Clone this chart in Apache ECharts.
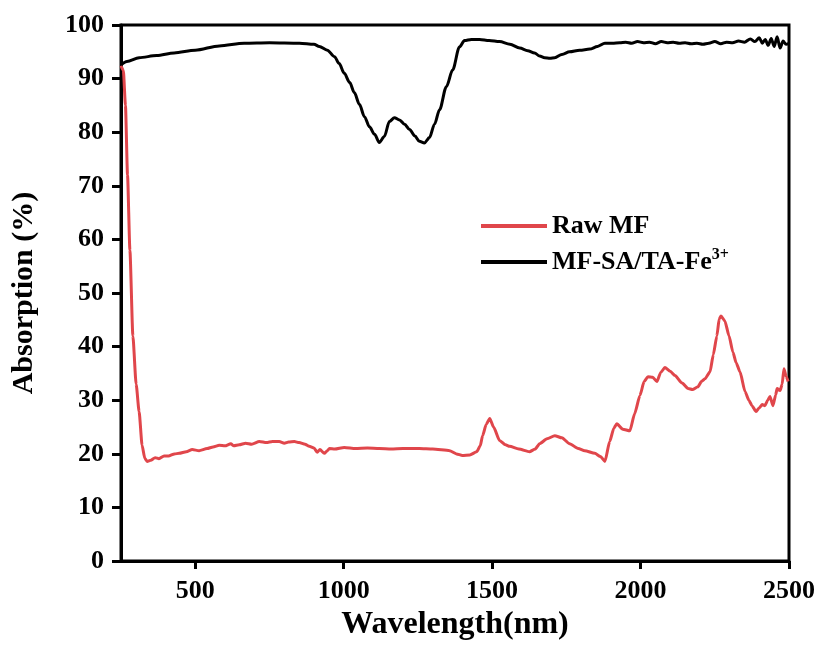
<!DOCTYPE html>
<html>
<head>
<meta charset="utf-8">
<script src="https://cdn.jsdelivr.net/npm/echarts@6/dist/echarts.min.js"></script>
<style>html,body{margin:0;padding:0;background:#fff;}#c{width:821px;height:646px;}</style>
</head>
<body>
<div id="c"></div>
<script>
var xTicks = [500, 1000, 1500, 2000, 2500];
var yTicks = [0, 10, 20, 30, 40, 50, 60, 70, 80, 90, 100];

var rawWl = [250,258,265,272,280,290,301,311,321,330,338,350,365,378,395,410,430,446,470,490,513,540,560,581,600,620,630,648,670,690,716,740,760,783,800,815,834,850,870,884,900,911,920,935,945,952,970,1002,1040,1080,1120,1160,1200,1255,1300,1357,1380,1400,1425,1448,1460,1468,1480,1492,1505,1525,1545,1559,1590,1626,1645,1660,1685,1711,1735,1761,1790,1812,1846,1865,1880,1896,1910,1920,1940,1964,1980,1998,2012,2025,2041,2055,2068,2082,2100,2116,2140,2160,2175,2193,2205,2217,2234,2245,2257,2265,2271,2284,2298,2311,2322,2335,2352,2365,2375,2389,2400,2410,2419,2428,2436,2446,2455,2460,2470,2477,2483,2490,2497];
var rawVal = [92.4,91.5,85,72,58,42,33,27.9,21.6,19.2,18.6,18.8,19.3,19.1,19.6,19.6,20.0,20.1,20.4,20.8,20.6,21.0,21.3,21.6,21.5,21.9,21.5,21.7,22.0,21.8,22.3,22.1,22.3,22.3,22.0,22.2,22.3,22.1,21.8,21.4,21.1,20.3,20.8,20.1,20.6,21.0,20.9,21.2,21.0,21.1,21.0,20.9,21.0,21.0,20.9,20.6,20.0,19.7,19.8,20.4,21.5,23.4,25.5,26.6,25.0,22.5,21.7,21.4,20.9,20.4,20.9,21.9,22.8,23.4,23.0,21.9,21.0,20.6,20.1,19.5,18.6,22.3,24.8,25.6,24.6,24.3,27.5,30.9,33.5,34.4,34.3,33.5,35.2,36.1,35.4,34.6,33.2,32.2,32.0,32.5,33.5,34.0,35.3,38.5,42.0,45.2,45.7,44.8,42.0,39.0,37.0,35.3,31.6,30.0,29.0,27.9,28.6,29.2,29.0,30.0,30.7,29.0,31.0,32.2,31.8,33.0,35.9,34.5,33.5];

var coatWl = [250,270,311,370,429,500,581,665,750,851,900,918,945,969,985,1002,1020,1036,1053,1070,1087,1104,1120,1137,1154,1171,1188,1205,1222,1240,1255,1272,1289,1306,1323,1346,1367,1390,1407,1430,1458,1490,1525,1560,1593,1620,1643,1660,1677,1695,1711,1735,1761,1795,1829,1855,1880,1905,1930,1950,1970,1990,2010,2030,2050,2070,2090,2110,2130,2150,2170,2190,2210,2230,2250,2270,2290,2310,2330,2350,2370,2385,2400,2410,2420,2430,2440,2450,2460,2470,2480,2490,2500];
var coatVal = [92.6,93.2,93.9,94.3,94.8,95.3,96.1,96.6,96.7,96.6,96.4,96.0,95.3,94.1,92.8,91.0,89.3,87.4,85.2,82.9,81.0,79.6,78.1,79.2,82.0,82.7,82.3,81.5,80.5,79.3,78.3,78.0,79.0,81.5,84.2,88.5,91.6,95.9,97.1,97.3,97.3,97.1,96.9,96.4,95.7,95.2,94.8,94.2,93.9,93.8,93.9,94.5,95.0,95.3,95.5,96.0,96.6,96.6,96.7,96.8,96.6,96.9,96.7,96.8,96.5,96.9,96.7,96.8,96.6,96.7,96.5,96.6,96.4,96.6,96.9,96.5,96.8,96.7,97.0,96.8,97.4,96.9,97.6,96.6,97.3,96.2,97.5,96.0,97.8,95.7,97.0,96.4,96.6];

function pairs(a, b) { return a.map(function (v, i) { return [v, b[i]]; }); }

var font = '"Liberation Serif", "Times New Roman", serif';
var chart = echarts.init(document.getElementById('c'), null, {renderer: 'canvas'});
chart.setOption({
  animation: false,
  backgroundColor: '#fff',
  grid: {left: 121, right: 32, top: 25, bottom: 83, show: true, borderColor: '#000', borderWidth: 3, backgroundColor: 'transparent'},
  legend: {
    orient: 'vertical', left: 476, top: 208, itemWidth: 66, itemHeight: 4, itemGap: 8, icon: 'rect',
    textStyle: {fontFamily: font, fontWeight: 'bold', fontSize: 26, color: '#000', padding: [0,0,0,0],
      rich: {
        a: {fontFamily: font, fontWeight: 'bold', fontSize: 26, color: '#000'},
        s: {fontFamily: font, fontWeight: 'bold', fontSize: 16, color: '#000', verticalAlign: 'top', padding: [0,0,14,0]}
      }},
    formatter: function (n) { return n === 'Raw MF' ? '{a|Raw MF}' : '{a|MF-SA/TA-Fe}{s|3+}'; },
    data: ['Raw MF', 'MF-SA/TA-Fe3+']
  },
  xAxis: {
    type: 'value', min: 250, max: 2500,
    name: 'Wavelength(nm)', nameLocation: 'middle', nameGap: 47,
    nameTextStyle: {fontFamily: font, fontWeight: 'bold', fontSize: 32, color: '#000'},
    axisLine: {show: true, lineStyle: {color: '#000', width: 3}},
    axisTick: {show: true, length: 8, inside: false, lineStyle: {color: '#000', width: 3}, customValues: xTicks},
    axisLabel: {margin: 17, fontFamily: font, fontWeight: 'bold', fontSize: 26, color: '#000', customValues: xTicks,
      formatter: function (v) { return String(v); }},
    splitLine: {show: false}
  },
  yAxis: {
    type: 'value', min: 0, max: 100, interval: 10,
    name: 'Absorption (%)', nameLocation: 'middle', nameGap: 82,
    nameTextStyle: {fontFamily: font, fontWeight: 'bold', fontSize: 30, color: '#000'},
    axisLine: {show: true, lineStyle: {color: '#000', width: 3}},
    axisTick: {show: true, length: 9, inside: false, lineStyle: {color: '#000', width: 3}},
    axisLabel: {margin: 17, fontFamily: font, fontWeight: 'bold', fontSize: 26, color: '#000',
      formatter: function (v) { return yTicks.indexOf(v) >= 0 ? String(v) : ''; }},
    splitLine: {show: false}
  },
  series: [
    {name: 'Raw MF', type: 'line', data: pairs(rawWl, rawVal), showSymbol: false, smooth: 0.2, smoothMonotone: 'x',
      lineStyle: {color: '#e0464b', width: 3}, itemStyle: {color: '#e0464b'}},
    {name: 'MF-SA/TA-Fe3+', type: 'line', data: pairs(coatWl, coatVal), showSymbol: false, smooth: 0.3, smoothMonotone: 'x',
      lineStyle: {color: '#000', width: 3}, itemStyle: {color: '#000'}}
  ]
});
</script>
</body>
</html>
